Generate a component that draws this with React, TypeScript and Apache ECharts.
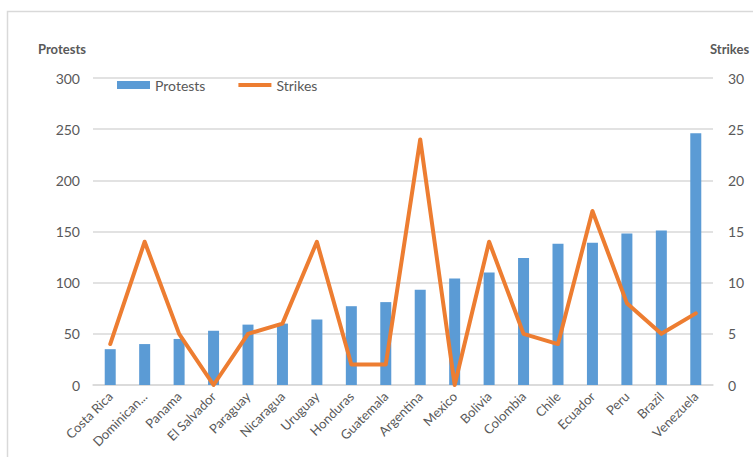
import React, { useEffect, useRef } from "react";
import * as echarts from "echarts";

const categories = [
  "Costa Rica", "Dominican Republic", "Panama", "El Salvador", "Paraguay", "Nicaragua",
  "Uruguay", "Honduras", "Guatemala", "Argentina", "Mexico", "Bolivia",
  "Colombia", "Chile", "Ecuador", "Peru", "Brazil", "Venezuela",
];
const protests = [35, 40, 45, 53, 59, 60, 64, 77, 81, 93, 104, 110, 124, 138, 139, 148, 151, 246];
const strikes = [4, 14, 5, 0, 5, 6, 14, 2, 2, 24, 0, 14, 5, 4, 17, 8, 5, 7];
const leftTicks = { min: 0, max: 300, interval: 50 };
const rightTicks = { min: 0, max: 30, interval: 5 };

const FONT = "Lato, 'Open Sans', sans-serif";
const GREY = "#595959";

export default function App() {
  const ref = useRef<HTMLDivElement>(null);
  useEffect(() => {
    if (!ref.current) return;
    const chart = echarts.init(ref.current, undefined, { renderer: "svg" });
    chart.setOption({
      animation: false,
      backgroundColor: "#ffffff",
      textStyle: { fontFamily: FONT },
      graphic: [
        {
          type: "rect",
          shape: { x: 7.5, y: 11.5, width: 800, height: 500 },
          style: { fill: "none", stroke: "#d9d9d9", lineWidth: 1.5 },
          silent: true,
        },
        {
          type: "text",
          left: 38,
          top: 42,
          style: { text: "Protests", fill: GREY, font: `bold 13px ${FONT}` },
        },
        {
          type: "text",
          left: 710,
          top: 42,
          style: { text: "Strikes", fill: GREY, font: `bold 13px ${FONT}` },
        },
      ],
      legend: {
        left: 112,
        top: 73,
        itemGap: 33,
        itemWidth: 33,
        itemHeight: 8,
        textStyle: { color: GREY, fontSize: 14, fontFamily: FONT },
        data: [
          { name: "Protests", icon: "rect" },
          {
            name: "Strikes",
            icon: "path://M0 0H33V4H0Z",
            itemStyle: { color: "#ED7D31", borderWidth: 0 },
            lineStyle: { width: 0, opacity: 0 },
          },
        ],
      },
      grid: { left: 93, right: 40, top: 78, bottom: 72, containLabel: false },
      xAxis: {
        type: "category",
        data: categories,
        axisLine: { show: true, lineStyle: { color: "#d9d9d9", width: 1.5 } },
        axisTick: { show: false },
        axisLabel: {
          rotate: 45,
          interval: 0,
          margin: 9,
          color: GREY,
          fontSize: 13,
          fontFamily: FONT,
          formatter: (v: string) => (v.length > 11 ? v.slice(0, 9) + "..." : v),
        },
      },
      yAxis: [
        {
          type: "value",
          ...leftTicks,
          axisLine: { show: false },
          axisTick: { show: false },
          splitLine: { lineStyle: { color: "#d9d9d9", width: 1.5 } },
          axisLabel: { color: GREY, fontSize: 14, margin: 13, fontFamily: FONT },
        },
        {
          type: "value",
          ...rightTicks,
          axisLine: { show: false },
          axisTick: { show: false },
          splitLine: { show: false },
          axisLabel: { color: GREY, fontSize: 14, margin: 15, fontFamily: FONT },
        },
      ],
      series: [
        {
          name: "Protests",
          type: "bar",
          data: protests,
          barWidth: 11,
          itemStyle: { color: "#5B9BD5" },
          yAxisIndex: 0,
        },
        {
          name: "Strikes",
          type: "line",
          data: strikes,
          yAxisIndex: 1,
          symbol: "none",
          lineStyle: { color: "#ED7D31", width: 4, join: "round", cap: "round" },
          itemStyle: { color: "#ED7D31" },
          z: 3,
        },
      ],
    });
    return () => chart.dispose();
  }, []);
  return (
    <div
      ref={ref}
      style={{ position: "fixed", left: 0, top: 0, width: 753, height: 457, background: "#fff" }}
    />
  );
}
